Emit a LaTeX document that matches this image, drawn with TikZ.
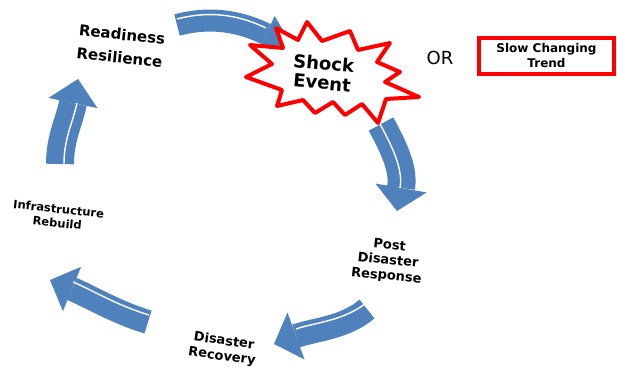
\documentclass[tikz,border=0pt]{standalone}
\usepackage{fontspec}
\setmainfont{DejaVu Sans}
\usetikzlibrary{calc, positioning}
\definecolor{arrowblue}{HTML}{4F81BD}

\begin{document}
\begin{tikzpicture}[x=1pt, y=-1pt,
    stagelabel/.style={font=\bfseries\fontsize{13}{15.5}\selectfont, align=center, rotate=-6},
    arrowbody/.style={draw=arrowblue, line cap=butt},
    splitline/.style={draw=white, line width=1.4pt}]
  \useasboundingbox (0,0) rectangle (617,370);

  % Arrow ends: start, control, head base, tip
  \coordinate (top-s) at (177,25);
  \coordinate (top-c) at (215,15);
  \coordinate (top-b) at (266,34);
  \coordinate (top-t) at (293,47);
  \coordinate (right-s) at (381,124);
  \coordinate (right-c) at (394,148);
  \coordinate (right-b) at (401,188);
  \coordinate (right-t) at (397,211);
  \coordinate (low-s) at (367,309);
  \coordinate (low-c) at (345,328);
  \coordinate (low-b) at (296,336);
  \coordinate (low-t) at (274,344);
  \coordinate (lowleft-s) at (148,322);
  \coordinate (lowleft-c) at (115,312);
  \coordinate (lowleft-b) at (72,289);
  \coordinate (lowleft-t) at (50,280);
  \coordinate (left-s) at (60,164);
  \coordinate (left-c) at (60,138);
  \coordinate (left-b) at (73,103);
  \coordinate (left-t) at (78,79);

  % Cycle arrows
  \foreach \n/\w/\hw/\sx/\sy in {top/22/20pt/0/-6, right/28/26pt/-1/0, low/24/25pt/0/-7,
                                 lowleft/24/24pt/1/-7, left/28/25pt/4/0} {
    \draw[arrowbody, line width=\w] (\n-s) .. controls (\n-c) and ($(\n-b)!-0.8!(\n-t)$) .. (\n-b);
    \fill[arrowblue] (\n-t) -- ($(\n-b)!\hw!90:(\n-t)$) -- ($(\n-b)!\hw!-90:(\n-t)$) -- cycle;
    % white edge between the faces
    \draw[splitline, transform canvas={shift={(\sx,\sy)}}]
      (\n-s) .. controls (\n-c) and ($(\n-b)!-0.8!(\n-t)$) .. (\n-b);
  }

  % Shock burst
  \draw[draw=red, fill=white, line width=4pt, line join=round]
    (307,22) -- (322,41) -- (350,31) -- (358,50) -- (390,43) -- (377,62) -- (400,72)
    -- (385,82) -- (419,97) -- (386,99) -- (378,123) -- (362,104) -- (345,115)
    -- (333,102) -- (315,113) -- (303,100) -- (277,106) -- (282,90) -- (246,77)
    -- (272,64) -- (250,45) -- (283,48) -- (276,28) -- (298,40) -- cycle;

  % Stage labels
  \node[stagelabel, font=\bfseries\fontsize{15}{23}\selectfont, align=left] (ready) at (121,46) {Readiness\\Resilience};
  \node[stagelabel, font=\bfseries\fontsize{18}{19.5}\selectfont, rotate=1] (shock) at (323,73) {Shock\\Event};
  \node[stagelabel] (post) at (388,261) {Post\\Disaster\\Response};
  \node[stagelabel, rotate=-2] (recovery) at (223,349) {Disaster\\Recovery};
  \node[stagelabel, font=\bfseries\fontsize{11.5}{14}\selectfont] (rebuild) at (58,216) {Infrastructure\\Rebuild};

  \node[font=\fontsize{18}{20}\selectfont] (or) at (440,58) {OR};
  \node[draw=red, line width=4pt, minimum width=135pt, minimum height=36pt, inner sep=0pt,
        font=\bfseries\fontsize{12}{15}\selectfont, align=center] (trend) at (546.5,56) {Slow Changing\\Trend};
\end{tikzpicture}
\end{document}
